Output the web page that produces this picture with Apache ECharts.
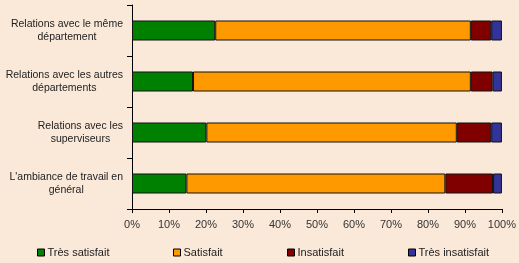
<!DOCTYPE html>
<html><head><meta charset="utf-8">
<script src="https://cdn.jsdelivr.net/npm/echarts@6/dist/echarts.min.js"></script>
<style>html,body{margin:0;padding:0;background:#FAE8D9;}#c{width:519px;height:263px;}</style>
</head><body><div id="c"></div>
<script>
const categories = [
  "Relations avec le même\ndépartement",
  "Relations avec les autres\ndépartements",
  "Relations avec les\nsuperviseurs",
  "L'ambiance de travail en\ngénéral"
];
const seriesNames = ["Très satisfait", "Satisfait", "Insatisfait", "Très insatisfait"];
const tresSatisfait = [22.5, 16.5, 20.1, 14.7];
const satisfait = [69.1, 75.1, 67.7, 70.0];
const insatisfait = [5.5, 5.9, 9.3, 12.9];
const tresInsatisfait = [2.9, 2.5, 2.9, 2.4];
const xTicks = [0, 10, 20, 30, 40, 50, 60, 70, 80, 90, 100];

const colors = ["#008000", "#FF9900", "#800000", "#333399"];
const values = [tresSatisfait, satisfait, insatisfait, tresInsatisfait];
const legendLeft = [32, 168, 282, 403];
const font = "Liberation Sans, Arial, sans-serif";

const chart = echarts.init(document.getElementById('c'));
chart.setOption({
  backgroundColor: '#FAE8D9',
  animation: false,
  textStyle: { fontFamily: font },
  grid: { left: 132, right: 14, top: 5, bottom: 54 },
  xAxis: {
    type: 'value', min: 0, max: 100, interval: 10,
    axisLine: { show: true, lineStyle: { color: '#000', width: 1 } },
    axisTick: { show: true, length: 4, lineStyle: { color: '#000' } },
    splitLine: { show: false },
    axisLabel: {
      color: '#333', fontSize: 11, fontFamily: font, margin: 10,
      formatter: v => xTicks.includes(v) ? v + '%' : ''
    }
  },
  yAxis: {
    type: 'category', data: categories, inverse: true,
    axisLine: { show: true, lineStyle: { color: '#000', width: 1 } },
    axisTick: { show: true, length: 5, lineStyle: { color: '#000' } },
    axisLabel: {
      color: '#222', fontSize: 10.5, fontFamily: font, margin: 9, lineHeight: 13,
      formatter: v => v.split('\n').map(l => '{c|' + l + '}').join('\n'),
      rich: { c: { align: 'center', fontSize: 10.5, color: '#222', fontFamily: font, lineHeight: 13 } }
    }
  },
  legend: seriesNames.map((n, i) => ({
    data: [n], left: legendLeft[i], top: 242,
    icon: 'rect', itemWidth: 7, itemHeight: 7, itemGap: 3,
    textStyle: { fontSize: 11, color: '#222', fontFamily: font, padding: [0, 0, 0, -2] },
    itemStyle: { borderColor: '#000', borderWidth: 1 }
  })),
  series: seriesNames.map((n, i) => ({
    name: n, type: 'bar', stack: 'total', barWidth: 20,
    data: values[i],
    itemStyle: { color: colors[i], borderColor: '#111', borderWidth: 1 }
  }))
});
</script></body></html>
